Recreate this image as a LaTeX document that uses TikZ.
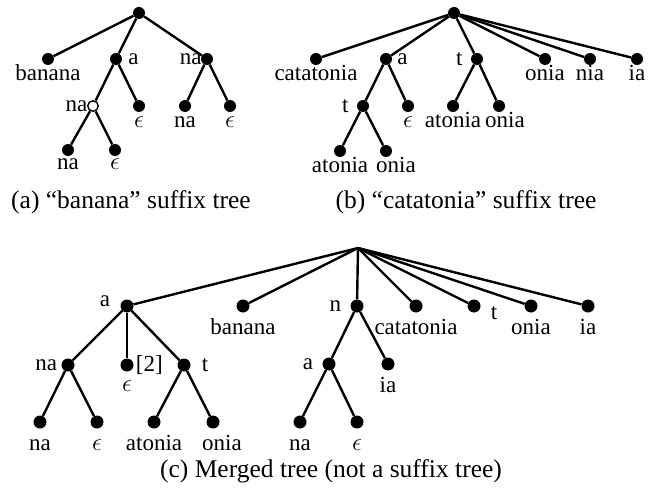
\documentclass[tikz,border=0pt]{standalone}
\usepackage{fontspec}
\setmainfont{Liberation Serif}
\begin{document}
\begin{tikzpicture}[x=1pt,y=-1pt,
  dot/.style={circle,fill=black,inner sep=0pt,minimum size=12pt},
  bdot/.style={circle,fill=black,inner sep=0pt,minimum size=13pt},
  odot/.style={circle,draw=black,fill=white,line width=1.4pt,inner sep=0pt,minimum size=10.5pt},
  every label/.style={font=\fontsize{23}{23}\selectfont,inner sep=0pt},
  bl/.style={text height=16pt,text depth=0pt},
  edge/.style={line width=2.4pt},
  capt/.style={font=\fontsize{25.5}{25.5}\selectfont,inner sep=0pt}]
\useasboundingbox (0,0) rectangle (650,497);

% ---------- (a) banana ----------
\begin{scope}[label distance=-1pt]
\node[dot] (ar) at (139,13) {};
\node[dot,label={[bl]below:banana}] (aban) at (48,59) {};
\node[dot,label={[label distance=6pt]right:a}] (aa) at (116,59) {};
\node[dot,label={[label distance=-1pt]left:na}] (ana) at (207,59) {};
\node[odot,label={[label distance=-0.5pt]left:na}] (aana) at (93,106) {};
\node[dot,label={[bl]below:$\epsilon$}] (aae) at (139,106) {};
\node[dot,label={[bl]below:na}] (anana) at (185,106) {};
\node[dot,label={[bl]below:$\epsilon$}] (anae) at (230,106) {};
\node[dot,label={[bl,label distance=-3pt]below:na}] (aanana) at (68,150) {};
\node[dot,label={[bl,label distance=-3pt]below:$\epsilon$}] (aanae) at (115,150) {};
\end{scope}
\draw[edge] (ar) -- (aban);
\draw[edge] (ar) -- (aa);
\draw[edge] (ar) -- (ana);
\draw[edge] (aa) -- (aana);
\draw[edge] (aa) -- (aae);
\draw[edge] (ana) -- (anana);
\draw[edge] (ana) -- (anae);
\draw[edge] (aana) -- (aanana);
\draw[edge] (aana) -- (aanae);

% ---------- (b) catatonia ----------
\begin{scope}[label distance=-1pt]
\node[dot] (br) at (454,13) {};
\node[dot,label={[bl]below:catatonia}] (bcat) at (316,59) {};
\node[dot,label={[label distance=5pt]right:a}] (ba) at (386,59) {};
\node[dot,label={[label distance=8pt]left:t}] (bt) at (477,59) {};
\node[dot,label={[bl]below:onia}] (bon) at (545,59) {};
\node[dot,label={[bl]below:nia}] (bni) at (590,59) {};
\node[dot,label={[bl]below:ia}] (bia) at (637,59) {};
\node[dot,label={[label distance=8pt]left:t}] (bat) at (363,106) {};
\node[dot,label={[bl]below:$\epsilon$}] (bae) at (408,106) {};
\node[dot,label={[bl]below:atonia}] (btat) at (453,106) {};
\node[dot,label={[bl,xshift=6pt]below:onia}] (bton) at (499,106) {};
\node[dot,label={[bl]below:atonia}] (batat) at (340,151) {};
\node[dot,label={[bl,xshift=10pt]below:onia}] (baton) at (386,151) {};
\end{scope}
\draw[edge] (br) -- (bcat);
\draw[edge] (br) -- (ba);
\draw[edge] (br) -- (bt);
\draw[edge] (br) -- (bon);
\draw[edge] (br) -- (bni);
\draw[edge] (br) -- (bia);
\draw[edge] (ba) -- (bat);
\draw[edge] (ba) -- (bae);
\draw[edge] (bt) -- (btat);
\draw[edge] (bt) -- (bton);
\draw[edge] (bat) -- (batat);
\draw[edge] (bat) -- (baton);

% ---------- (c) merged ----------
\begin{scope}[label distance=6pt]
\node[inner sep=0pt,minimum size=2pt] (cr) at (358,248) {};
\node[bdot,label={[label distance=10pt,yshift=5pt]left:a}] (ca) at (127,306) {};
\node[bdot,label={[bl]below:banana}] (cban) at (243,306) {};
\node[bdot,label={[label distance=9pt]left:n}] (cn) at (357,306) {};
\node[bdot,label={[bl]below:catatonia}] (ccat) at (416,306) {};
\node[bdot,label={[label distance=10pt,yshift=-7pt]right:t}] (ct) at (474,306) {};
\node[bdot,label={[bl]below:onia}] (con) at (531,306) {};
\node[bdot,label={[bl]below:ia}] (cia) at (588,306) {};
\node[bdot,label={[label distance=4pt]left:na}] (cana) at (68,365) {};
\node[bdot,label={[label distance=2pt]right:{[2]}},label={[bl,label distance=4pt]below:$\epsilon$}] (ce) at (127,365) {};
\node[bdot,label={[label distance=11pt]right:t}] (cat) at (184,365) {};
\node[bdot,label={[label distance=9pt]left:a}] (cna) at (329,364) {};
\node[bdot,label={[bl]below:ia}] (cnia) at (388,364) {};
\node[bdot,label={[bl]below:na}] (canana) at (40,422) {};
\node[bdot,label={[bl]below:$\epsilon$}] (canae) at (97,422) {};
\node[bdot,label={[bl]below:atonia}] (catat) at (154,422) {};
\node[bdot,label={[bl,xshift=9pt]below:onia}] (caton) at (213,422) {};
\node[bdot,label={[bl]below:na}] (cnana) at (300,422) {};
\node[bdot,label={[bl]below:$\epsilon$}] (cnae) at (357,422) {};
\end{scope}
\foreach \t in {ca,cban,cn,ccat,ct,con,cia} \draw[edge] (cr.center) -- (\t);
\draw[edge] (ca) -- (cana);
\draw[edge] (ca) -- (ce);
\draw[edge] (ca) -- (cat);
\draw[edge] (cana) -- (canana);
\draw[edge] (cana) -- (canae);
\draw[edge] (cat) -- (catat);
\draw[edge] (cat) -- (caton);
\draw[edge] (cn) -- (cna);
\draw[edge] (cn) -- (cnia);
\draw[edge] (cna) -- (cnana);
\draw[edge] (cna) -- (cnae);

% ---------- captions ----------
\node[capt] (capa) at (131,202) {(a) “banana” suffix tree};
\node[capt] (capb) at (466,202) {(b) “catatonia” suffix tree};
\node[capt] (capc) at (331,471) {(c) Merged tree (not a suffix tree)};
\end{tikzpicture}
\end{document}
